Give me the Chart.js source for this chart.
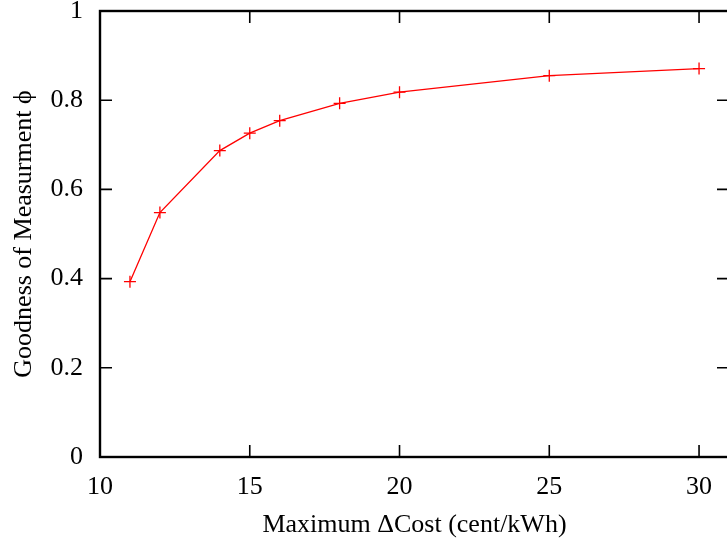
<!DOCTYPE html>
<html>
<head>
<meta charset="utf-8">
<script src="https://cdn.jsdelivr.net/npm/chart.js@4"></script>
<style>
  html, body { margin: 0; padding: 0; background: #fff; overflow: hidden; }
  #wrap { width: 745px; height: 543px; position: relative; }
</style>
</head>
<body>
<div id="wrap"><canvas id="c"></canvas></div>
<script>
// Maximum cost difference (cent/kWh) and the resulting goodness of measurement
const maxCost = [11, 12, 14, 15, 16, 18, 20, 25, 30];
const goodness = [0.393, 0.548, 0.687, 0.726, 0.754, 0.793, 0.818, 0.855, 0.871];

const xTicks = [10, 15, 20, 25, 30];
const yTicks = [0, 0.2, 0.4, 0.6, 0.8, 1];
const yTickLabels = ['0', '0.2', '0.4', '0.6', '0.8', '1'];

const xTitle = 'Maximum \u0394Cost (cent/kWh)';
const yTitle = 'Goodness of Measurment \u03D5';

const FONT = 'Liberation Serif, Times New Roman, serif';
const FONT_SIZE = 26;

// Frame around the plot with short inward ticks on all four sides
const framePlugin = {
  id: 'frame',
  afterDraw(chart) {
    const { ctx, chartArea: a, scales } = chart;
    const len = 12;
    ctx.save();
    ctx.strokeStyle = '#000';
    ctx.lineWidth = 1.6;
    ctx.beginPath();
    scales.x.ticks.forEach(t => {
      const px = scales.x.getPixelForValue(t.value);
      ctx.moveTo(px, a.bottom); ctx.lineTo(px, a.bottom - len);
      ctx.moveTo(px, a.top); ctx.lineTo(px, a.top + len);
    });
    scales.y.ticks.forEach(t => {
      const py = scales.y.getPixelForValue(t.value);
      ctx.moveTo(a.left, py); ctx.lineTo(a.left + len, py);
      ctx.moveTo(a.right, py); ctx.lineTo(a.right - len, py);
    });
    ctx.stroke();
    ctx.lineWidth = 2.4;
    ctx.strokeRect(a.left, a.top, a.right - a.left, a.bottom - a.top);
    ctx.restore();
  }
};

new Chart(document.getElementById('c'), {
  type: 'scatter',
  data: {
    datasets: [{
      data: maxCost.map((x, i) => ({ x, y: goodness[i] })),
      showLine: true,
      borderColor: '#ff0000',
      backgroundColor: '#ff0000',
      borderWidth: 1.3,
      pointStyle: 'cross',
      pointRadius: 6,
      pointBorderWidth: 1.3,
      tension: 0
    }]
  },
  options: {
    responsive: true,
    maintainAspectRatio: false,
    animation: false,
    layout: { padding: { left: 0, right: 16, top: 11, bottom: 0 } },
    plugins: { legend: { display: false }, tooltip: { enabled: false } },
    scales: {
      x: {
        type: 'linear',
        min: 10,
        max: 31,
        afterBuildTicks(scale) { scale.ticks = xTicks.map(v => ({ value: v })); },
        afterFit(scale) {
          scale.height = 86;
          scale.paddingLeft = 0; scale.paddingRight = 0;
        },
        grid: { display: false, drawTicks: false },
        border: { display: false },
        ticks: {
          color: '#000',
          padding: 15,
          font: { family: FONT, size: FONT_SIZE },
          maxRotation: 0
        },
        title: {
          display: true,
          text: xTitle,
          color: '#000',
          font: { family: FONT, size: FONT_SIZE },
          padding: { top: 0, bottom: 2 }
        }
      },
      y: {
        type: 'linear',
        min: 0,
        max: 1,
        afterBuildTicks(scale) { scale.ticks = yTicks.map(v => ({ value: v })); },
        afterFit(scale) {
          scale.width = 100;
          scale.paddingTop = 0; scale.paddingBottom = 0;
        },
        grid: { display: false, drawTicks: false },
        border: { display: false },
        ticks: {
          color: '#000',
          padding: 17,
          font: { family: FONT, size: FONT_SIZE },
          callback: (v, i) => yTickLabels[i]
        },
        title: {
          display: true,
          text: yTitle,
          color: '#000',
          font: { family: FONT, size: FONT_SIZE },
          padding: { top: 9, bottom: 0 }
        }
      }
    }
  },
  plugins: [framePlugin]
});
</script>
</body>
</html>
